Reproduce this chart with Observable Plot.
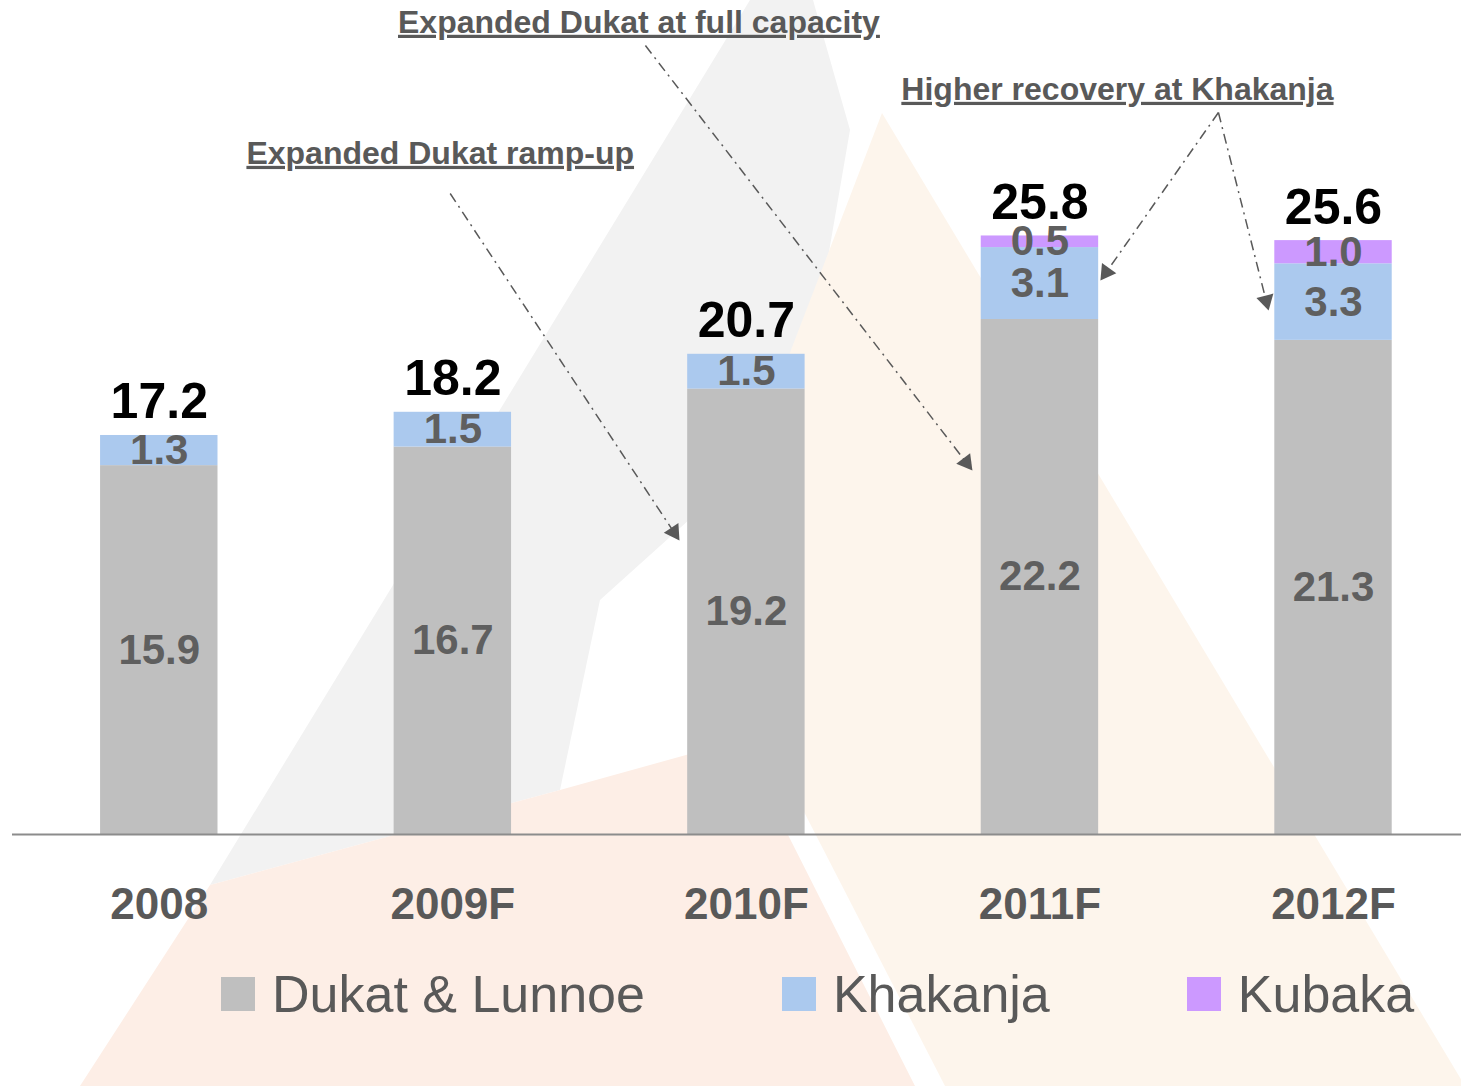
<!DOCTYPE html>
<html><head><meta charset="utf-8">
<script src="https://cdn.jsdelivr.net/npm/d3@7"></script>
<script src="https://cdn.jsdelivr.net/npm/@observablehq/plot@0.6"></script>
<style>
body{margin:0;background:#fff;width:1461px;height:1086px;position:relative;overflow:hidden;font-family:"Liberation Sans",Arial,sans-serif;}
#bg{position:absolute;left:0;top:0;z-index:0}
#chart{position:absolute;left:0;top:0;z-index:1}
#legend{position:absolute;left:221px;top:962px;display:flex;align-items:center;z-index:2;font-size:52px;color:#595959;line-height:64px}
.item{display:flex;align-items:center;margin-right:137px}
.item:last-child{margin-right:0}
.sw{width:34px;height:34px;margin-right:17px}
.ann text{text-decoration:underline;text-decoration-thickness:2.5px}
</style></head>
<body>
<svg id="bg" width="1461" height="1086">
  <polygon points="750,0 813,0 850,130 800,420 600,600 560,790 210,885" fill="#f2f2f2"/>
  <polygon points="882,113 1465,1086 945,1086 695,600" fill="#fdf5ec"/>
  <polygon points="80,1086 210,885 560,790 740,740 915,1086" fill="#fdeee6"/>
</svg>
<div id="chart"></div>
<div id="legend"></div>
<script>
const categories = ["2008", "2009F", "2010F", "2011F", "2012F"];
const dukat = [15.9, 16.7, 19.2, 22.2, 21.3];
const khakanja = [1.3, 1.5, 1.5, 3.1, 3.3];
const kubaka = [0, 0, 0, 0.5, 1.0];
const totals = [17.2, 18.2, 20.7, 25.8, 25.6];
const seriesNames = ["Dukat & Lunnoe", "Khakanja", "Kubaka"];
const seriesColors = ["#bfbfbf", "#abc9ee", "#cc99ff"];

const annTexts = ["Expanded Dukat ramp-up", "Expanded Dukat at full capacity", "Higher recovery at Khakanja"];
const annX = [0.957, 1.634, 3.264];
const annY = [29.35, 35.0, 32.11];
const arrowFromX = [0.991, 1.656, 3.608, 3.608];
const arrowFromY = [27.63, 34.01, 31.12, 31.12];
const arrowToX = [1.772, 2.770, 3.206, 3.779];
const arrowToY = [12.67, 15.69, 23.88, 22.59];

const FONT = "Liberation Sans, Arial, sans-serif";
const xOpts = {type: "linear", domain: [-0.5, 4.436], range: [12, 1461]};
const yOpts = {type: "linear", domain: [0, 35.95], range: [834, 0]};

// stacked segments
const seriesValues = [dukat, khakanja, kubaka];
const segs = [];
categories.forEach((c, i) => {
  let base = 0;
  seriesValues.forEach((vals, s) => {
    const v = vals[i];
    if (v > 0) segs.push({i, series: seriesNames[s], y1: base, y2: base + v, value: v});
    base += v;
  });
});
const tot = categories.map((c, i) => ({i, c, total: totals[i]}));
const ann = annTexts.map((t, k) => ({t, x: annX[k], y: annY[k]}));

// arrowheads: compute direction in pixel space with the same scales
const xs = Plot.scale({x: xOpts});
const ys = Plot.scale({y: yOpts});
const headR = 6.5, tipOff = 1.555 * headR;
const arrows = arrowFromX.map((x1, k) => {
  const px1 = xs.apply(x1), py1 = ys.apply(arrowFromY[k]);
  const px2 = xs.apply(arrowToX[k]), py2 = ys.apply(arrowToY[k]);
  const dx = px2 - px1, dy = py2 - py1, L = Math.hypot(dx, dy);
  const cx = px2 - dx / L * tipOff, cy = py2 - dy / L * tipOff;
  return {x1, y1: arrowFromY[k], x2: xs.invert(cx), y2: ys.invert(cy),
          rot: Math.atan2(dx, -dy) * 180 / Math.PI};
});

const chart = Plot.plot({
  width: 1461, height: 950,
  marginTop: 0, marginLeft: 12, marginRight: 0, marginBottom: 116,
  x: {...xOpts, axis: null},
  y: {...yOpts, axis: null},
  color: {domain: seriesNames, range: seriesColors},
  style: {background: "transparent", fontFamily: FONT},
  marks: [
    Plot.rect(segs, {x1: d => d.i - 0.2, x2: d => d.i + 0.2, y1: "y1", y2: "y2", fill: "series"}),
    Plot.ruleY([0], {stroke: "#8c8c8c", strokeWidth: 2}),
    Plot.text(segs, {x: "i", y: d => (d.y1 + d.y2) / 2, text: d => d.value.toFixed(1),
      fontSize: 42, fontWeight: "bold", fill: "#5f5f5f", lineAnchor: "middle", fontFamily: FONT}),
    Plot.text(tot, {x: "i", y: "total", text: d => d.total.toFixed(1), dy: -33,
      fontSize: 50, fontWeight: "bold", fill: "#000", lineAnchor: "middle", fontFamily: FONT}),
    Plot.text(tot, {x: "i", y: 0, text: "c", dy: 70,
      fontSize: 44, fontWeight: "bold", fill: "#595959", lineAnchor: "middle", fontFamily: FONT}),
    Plot.link(arrows, {x1: "x1", y1: "y1", x2: "x2", y2: "y2", stroke: "#595959",
      strokeWidth: 1.5, strokeDasharray: "10,5,2,5"}),
    Plot.dot(arrows, {x: "x2", y: "y2", symbol: "triangle", r: headR, rotate: "rot",
      fill: "#595959", stroke: "none"}),
    Plot.text(ann, {x: "x", y: "y", text: "t", fontSize: 32, fontWeight: "bold",
      fill: "#595959", lineAnchor: "middle", fontFamily: FONT, className: "ann"})
  ]
});
document.getElementById("chart").appendChild(chart);

const legend = document.getElementById("legend");
seriesNames.forEach((n, s) => {
  const it = document.createElement("div");
  it.className = "item";
  const sw = document.createElement("div");
  sw.className = "sw";
  sw.style.background = seriesColors[s];
  const tx = document.createElement("span");
  tx.textContent = n;
  it.appendChild(sw); it.appendChild(tx);
  legend.appendChild(it);
});
</script>
</body></html>
